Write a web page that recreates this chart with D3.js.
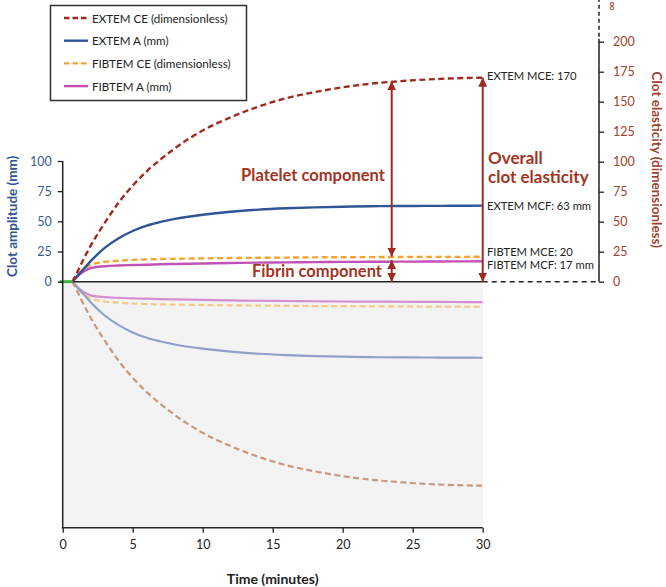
<!DOCTYPE html>
<html>
<head>
<meta charset="utf-8">
<script src="https://cdn.jsdelivr.net/npm/d3@7"></script>
<style>
  html, body { margin: 0; padding: 0; background: #fff; }
  svg { display: block; font-family: Lato, "Open Sans", sans-serif; }
</style>
</head>
<body>
<svg id="chart" width="666" height="587"></svg>
<script>
// ---------------- DATA ----------------
const time        = [0.7, 1, 1.5, 2, 3, 4, 5, 6, 7, 8, 10, 12, 14, 16, 18, 20, 22, 24, 26, 28, 30];
const extemCE     = [0, 7, 19, 30, 49, 66, 80, 92, 102, 111, 126, 137, 146, 153, 158, 162, 165, 167, 168.5, 169.5, 170];
const extemA      = [0, 4, 10.5, 17, 28, 36, 42, 46.5, 49.5, 52, 55.5, 58, 59.7, 60.8, 61.6, 62.1, 62.5, 62.7, 62.8, 62.9, 63];
const fibtemCE    = [0, 5, 10.5, 14, 16.5, 17.5, 18.2, 18.6, 18.9, 19.1, 19.4, 19.7, 19.9, 20.1, 20.3, 20.4, 20.5, 20.6, 20.7, 20.7, 20.8];
const fibtemA     = [0, 4, 8.5, 11.3, 12.8, 13.4, 13.8, 14.1, 14.4, 14.7, 15.1, 15.5, 15.8, 16, 16.2, 16.4, 16.5, 16.6, 16.7, 16.8, 16.9];
const clotTime    = [0, 0.7];           // flat (green) segment before clotting starts
const xTicks      = [0, 5, 10, 15, 20, 25, 30];
const leftTicks   = [0, 25, 50, 75, 100];
const rightTicks  = [0, 25, 50, 75, 100, 125, 150, 175, 200];
const legendLabels = ["EXTEM CE (dimensionless)", "EXTEM A (mm)", "FIBTEM CE (dimensionless)", "FIBTEM A (mm)"];
// annotation values
const plateletArrow = { t: 23.5, top: 167, bottom: 21 };
const fibrinArrow   = { t: 23.5, top: 18, bottom: 0 };
const overallArrow  = { t: 30, top: 170, bottom: 0 };

// ---------------- LAYOUT ----------------
const svg = d3.select("#chart");
const x  = d3.scaleLinear().domain([0, 30]).range([62.7, 482.7]);
const yL = d3.scaleLinear().domain([0, 100]).range([281.7, 161]);   // mm
const yR = d3.scaleLinear().domain([0, 200]).range([281.7, 41.7]);  // CE
const bottomY = 527.7;
const red = "#9e2b1f";

// gray lower panel
svg.append("rect")
  .attr("x", x(0)).attr("y", yL(0))
  .attr("width", x(30) - x(0)).attr("height", bottomY - yL(0))
  .attr("fill", "#f3f3f3");

const series = [
  { key: "extemCE", vals: extemCE, scale: yR, color: "#9e2b1f", light: "#c9977c", dash: "6,3.5" },
  { key: "extemA",  vals: extemA,  scale: yL, color: "#2f5597", light: "#8fa1c9", dash: null },
  { key: "fibtemCE",vals: fibtemCE,scale: yR, color: "#f5a332", light: "#f5c985", dash: "6,3.5" },
  { key: "fibtemA", vals: fibtemA, scale: yL, color: "#c250b6", light: "#d68fcf", dash: null }
];

// lower mirrored curves (faded)
series.slice().reverse().forEach(s => {
  const line = d3.line().x((d, i) => x(time[i])).y(d => s.scale(-d)).curve(d3.curveMonotoneX);
  svg.append("path").datum(s.vals).attr("d", line)
    .attr("fill", "none").attr("stroke", s.light).attr("stroke-width", 2.2)
    .attr("stroke-dasharray", s.dash);
});

// zero line
svg.append("line").attr("x1", x(0)).attr("x2", x(30)).attr("y1", yL(0)).attr("y2", yL(0))
  .attr("stroke", "#222").attr("stroke-width", 1.5);
svg.append("line").attr("x1", x(30)).attr("x2", 599).attr("y1", yL(0)).attr("y2", yL(0))
  .attr("stroke", "#222").attr("stroke-width", 1.5).attr("stroke-dasharray", "5,4");

// upper curves
series.slice().reverse().forEach(s => {
  const line = d3.line().x((d, i) => x(time[i])).y(d => s.scale(d)).curve(d3.curveMonotoneX);
  svg.append("path").datum(s.vals).attr("d", line)
    .attr("fill", "none").attr("stroke", s.color).attr("stroke-width", 2.4)
    .attr("stroke-dasharray", s.dash);
});

// green pre-clot segment
svg.append("line").attr("x1", x(clotTime[0]) - 3).attr("x2", x(clotTime[1]))
  .attr("y1", yL(0)).attr("y2", yL(0)).attr("stroke", "#3cb043").attr("stroke-width", 3);

// ---------------- AXES ----------------
// left axis
const gL = svg.append("g").attr("transform", `translate(${x(0)},0)`)
  .call(d3.axisLeft(yL).tickValues(leftTicks).tickSize(5).tickPadding(6));
gL.select(".domain").remove();
gL.selectAll("line").attr("stroke", "#222").attr("stroke-width", 1.3);
gL.selectAll("text").attr("fill", "#3d5a96").attr("font-size", 12.5).attr("font-family", "Lato");
svg.append("line").attr("x1", x(0)).attr("x2", x(0)).attr("y1", yL(100)).attr("y2", bottomY)
  .attr("stroke", "#222").attr("stroke-width", 1.5);

// right axis
const axR = 599;
const gR = svg.append("g").attr("transform", `translate(${axR},0)`)
  .call(d3.axisRight(yR).tickValues(rightTicks).tickSize(5).tickPadding(9));
gR.select(".domain").remove();
gR.selectAll("line").attr("stroke", "#222").attr("stroke-width", 1.3);
gR.selectAll("text").attr("fill", "#a3402e").attr("font-size", 12.5).attr("font-family", "Lato");
svg.append("line").attr("x1", axR).attr("x2", axR).attr("y1", yR(0)).attr("y2", yR(200) - 3)
  .attr("stroke", "#222").attr("stroke-width", 1.5);
svg.append("line").attr("x1", axR).attr("x2", axR).attr("y1", yR(200) - 5).attr("y2", 0)
  .attr("stroke", "#222").attr("stroke-width", 1.5).attr("stroke-dasharray", "4,3");
svg.append("text").attr("transform", `translate(613,6) rotate(90)`)
  .attr("text-anchor", "middle").attr("dominant-baseline", "central")
  .attr("font-size", 13).attr("fill", "#a3402e").text("∞");

// bottom axis
const gB = svg.append("g").attr("transform", `translate(0,${bottomY})`)
  .call(d3.axisBottom(x).tickValues(xTicks).tickSize(5).tickPadding(7));
gB.select(".domain").remove();
gB.selectAll("line").attr("stroke", "#222").attr("stroke-width", 1.3);
gB.selectAll("text").attr("fill", "#222").attr("font-size", 12.5).attr("font-family", "Lato");
svg.append("line").attr("x1", x(0) - 1).attr("x2", x(30)).attr("y1", bottomY).attr("y2", bottomY)
  .attr("stroke", "#222").attr("stroke-width", 1.5);

// axis titles
svg.append("text").attr("x", (x(0) + x(30)) / 2).attr("y", 584)
  .attr("text-anchor", "middle").attr("font-weight", "bold").attr("font-size", 14)
  .attr("fill", "#222").text("Time (minutes)");
svg.append("text").attr("transform", `translate(12,${(yL(0) + yL(100)) / 2 - 5}) rotate(-90)`)
  .attr("text-anchor", "middle").attr("dominant-baseline", "central")
  .attr("font-weight", "bold").attr("font-size", 13.5).attr("fill", "#2f5597")
  .text("Clot amplitude (mm)");
svg.append("text").attr("transform", `translate(657,${(yR(0) + yR(200)) / 2 - 2}) rotate(90)`)
  .attr("text-anchor", "middle").attr("dominant-baseline", "central")
  .attr("font-weight", "bold").attr("font-size", 13.5).attr("fill", "#a3402e")
  .text("Clot elasticity (dimensionless)");

// ---------------- ANNOTATIONS ----------------
const defs = svg.append("defs");
["start", "end"].forEach(k => {
  defs.append("marker").attr("id", "arr-" + k)
    .attr("viewBox", "0 0 10 10").attr("refX", 10).attr("refY", 5)
    .attr("markerWidth", 9).attr("markerHeight", 9).attr("markerUnits", "userSpaceOnUse")
    .attr("orient", k === "start" ? "auto-start-reverse" : "auto")
    .append("path").attr("d", "M0,0 L10,5 L0,10 Z").attr("fill", red);
});
function arrow(a, sc) {
  svg.append("line").attr("x1", x(a.t)).attr("x2", x(a.t))
    .attr("y1", sc(a.top)).attr("y2", sc(a.bottom))
    .attr("stroke", red).attr("stroke-width", 2)
    .attr("marker-start", "url(#arr-start)").attr("marker-end", "url(#arr-end)");
}
arrow(plateletArrow, yR);
arrow(fibrinArrow, yR);
arrow(overallArrow, yR);

svg.append("text").attr("x", 313).attr("y", 181).attr("text-anchor", "middle")
  .attr("font-weight", "bold").attr("font-size", 16.5).attr("fill", "#a3341f").text("Platelet component");
svg.append("text").attr("x", 317).attr("y", 277).attr("text-anchor", "middle")
  .attr("font-weight", "bold").attr("font-size", 16.5).attr("fill", "#a3341f").text("Fibrin component");
svg.append("text").attr("x", 488).attr("y", 164)
  .attr("font-weight", "bold").attr("font-size", 17).attr("fill", "#a3341f").text("Overall");
svg.append("text").attr("x", 488).attr("y", 183)
  .attr("font-weight", "bold").attr("font-size", 17).attr("fill", "#a3341f").text("clot elasticity");

const valueLabels = [
  { text: "EXTEM MCE: 170",    y: yR(170) - 2 },
  { text: "EXTEM MCF: 63 mm",  y: yL(63) },
  { text: "FIBTEM MCE: 20",    y: yR(20) - 6 },
  { text: "FIBTEM MCF: 17 mm", y: yL(17) + 3 }
];
valueLabels.forEach(d => {
  svg.append("text").attr("x", 487).attr("y", d.y).attr("dominant-baseline", "central")
    .attr("font-size", 11.2).attr("fill", "#222").text(d.text);
});

// ---------------- LEGEND ----------------
const lg = svg.append("g");
lg.append("rect").attr("x", 50.5).attr("y", 5.5).attr("width", 196).attr("height", 95)
  .attr("fill", "#fff").attr("stroke", "#333").attr("stroke-width", 1.5);
legendLabels.forEach((lab, i) => {
  const s = series[i];
  const yy = 18 + i * 22.7;
  lg.append("line").attr("x1", 64).attr("x2", 88).attr("y1", yy).attr("y2", yy)
    .attr("stroke", s.color).attr("stroke-width", 2.4).attr("stroke-dasharray", s.dash ? "5.5,3" : null);
  lg.append("text").attr("x", 92).attr("y", yy).attr("dominant-baseline", "central")
    .attr("font-size", 11.6).attr("fill", "#222").text(lab);
});
</script>
</body>
</html>
